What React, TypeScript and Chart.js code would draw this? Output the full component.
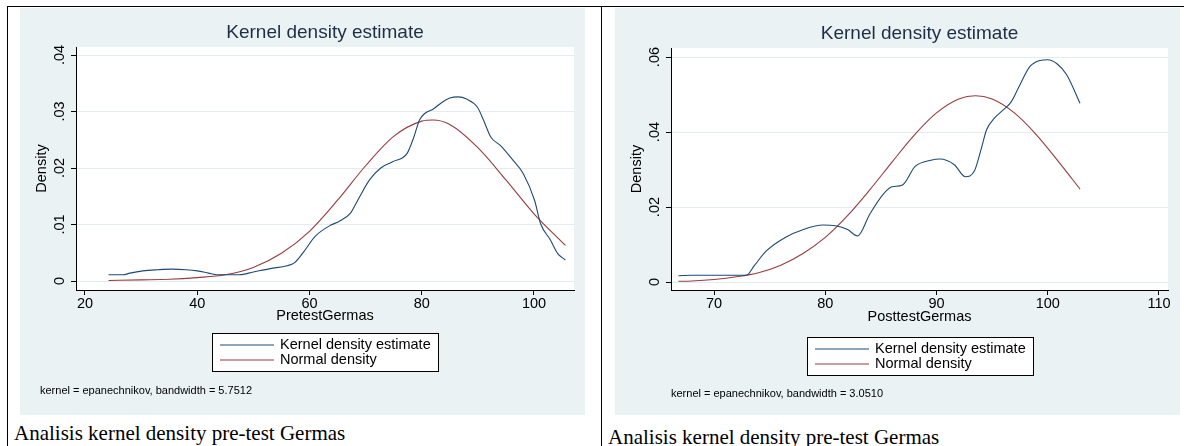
import React, { useEffect, useRef } from 'react';
import { Chart, registerables } from 'chart.js';

Chart.register(...registerables);

// ---------- data ----------
const seriesLabels = ['Kernel density estimate', 'Normal density'];
const chartTitle = 'Kernel density estimate';
const yTitle = 'Density';

// Pre-test panel
const preXTitle = 'PretestGermas';
const preNote = 'kernel = epanechnikov, bandwidth = 5.7512';
const preCaption = 'Analisis kernel density pre-test Germas';
const preXTicks = [20, 40, 60, 80, 100];
const preYTicks = [0, 0.01, 0.02, 0.03, 0.04];
const preKdeX = [24.2, 26.8, 28, 30.3, 33, 35.5, 38, 40, 42, 43.5, 47.5, 50, 53, 56, 57.3, 59, 61, 63.8, 65.2, 67.3, 68.6, 70.7, 72.7, 74.8, 77.4, 78.6, 79.6, 80.6, 82, 83.7, 85, 86.5, 88, 89.9, 91, 92.3, 94, 96, 98.1, 100.1, 101.2, 102.9, 104.2, 105.6];
const preKdeY = [0.0011, 0.0011, 0.0014, 0.0018, 0.002, 0.0021, 0.002, 0.0018, 0.0014, 0.0011, 0.0011, 0.0016, 0.0022, 0.0027, 0.0032, 0.0052, 0.0079, 0.0099, 0.0105, 0.012, 0.0143, 0.0179, 0.02, 0.0211, 0.0226, 0.0255, 0.0285, 0.0297, 0.0304, 0.0317, 0.0324, 0.0326, 0.0322, 0.0308, 0.0285, 0.0255, 0.024, 0.0217, 0.019, 0.0143, 0.0101, 0.0073, 0.0049, 0.0037];
const preNormX = [24.2, 30, 35, 40, 45, 50, 55, 60, 65, 70, 75, 80, 82, 85, 90, 95, 100, 105.6];
const preNormY = [0.0001, 0.0002, 0.0003, 0.0006, 0.0011, 0.0024, 0.0049, 0.0088, 0.0143, 0.0204, 0.0256, 0.0283, 0.0285, 0.0277, 0.0236, 0.0179, 0.0119, 0.0063];

// Post-test panel
const postXTitle = 'PosttestGermas';
const postNote = 'kernel = epanechnikov, bandwidth = 3.0510';
const postCaption = 'Analisis kernel density pre-test Germas';
const postXTicks = [70, 80, 90, 100, 110];
const postYTicks = [0, 0.02, 0.04, 0.06];
const postKdeX = [66.8, 68, 70, 72.2, 72.9, 73.6, 74.7, 76.4, 78.1, 79.8, 80.9, 82, 82.9, 84, 85.2, 86, 86.9, 88.1, 89.5, 90.3, 91.6, 92.6, 93.4, 94, 94.5, 95.2, 96, 96.7, 97.4, 98.4, 99.3, 100, 100.8, 101.7, 102.9];
const postKdeY = [0.0017, 0.0018, 0.0018, 0.0018, 0.0018, 0.0043, 0.0083, 0.0119, 0.0141, 0.0152, 0.015, 0.014, 0.0123, 0.0181, 0.0234, 0.0254, 0.0258, 0.0309, 0.0325, 0.0328, 0.0313, 0.0281, 0.0296, 0.0353, 0.0406, 0.0437, 0.0459, 0.048, 0.052, 0.0575, 0.0591, 0.0593, 0.0583, 0.0553, 0.0477];
const postNormX = [66.8, 68, 70, 72, 74, 76, 78, 80, 82, 84, 86, 88, 90, 92, 93.5, 95, 97, 99, 101, 102.9];
const postNormY = [0.0002, 0.0003, 0.0007, 0.0014, 0.0025, 0.0045, 0.0076, 0.0119, 0.0177, 0.0246, 0.032, 0.0392, 0.0451, 0.0488, 0.0497, 0.0488, 0.0451, 0.0392, 0.032, 0.0248];

// ---------- style ----------
const SANS = '"Liberation Sans", Arial, sans-serif';
const SERIF = '"Liberation Serif", "Times New Roman", serif';
const BLUE = '#1f4a70';
const RED = '#943c42';
const PANEL_BG = '#eaf2f3';
const GRID = '#e3ecee';
const TITLE_COLOR = '#1e2f45';

const fmtDensity = (v: number) => (v === 0 ? '0' : v.toFixed(2).replace(/^0/, ''));

const bgPlugin = {
  id: 'stataBg',
  beforeDraw(chart: any) {
    const { ctx, chartArea, width, height } = chart;
    ctx.save();
    ctx.fillStyle = PANEL_BG;
    ctx.fillRect(0, 0, width, height);
    ctx.fillStyle = '#ffffff';
    ctx.fillRect(chartArea.left, chartArea.top, chartArea.right - chartArea.left, chartArea.bottom - chartArea.top);
    ctx.restore();
  },
};

const legendPlugin = {
  id: 'stataLegend',
  afterDraw(chart: any, _args: any, opts: any) {
    const { ctx, chartArea } = chart;
    const cx = (chartArea.left + chartArea.right) / 2;
    const left = Math.round(cx - opts.width / 2);
    const top = opts.top;
    ctx.save();
    ctx.fillStyle = '#ffffff';
    ctx.fillRect(left, top, opts.width, opts.height);
    ctx.strokeStyle = '#000000';
    ctx.lineWidth = 1;
    ctx.strokeRect(left + 0.5, top + 0.5, opts.width, opts.height);
    chart.data.datasets.forEach((ds: any, i: number) => {
      const y = top + opts.rowStart + i * opts.rowGap;
      ctx.strokeStyle = ds.borderColor;
      ctx.lineWidth = 1.2;
      ctx.beginPath();
      ctx.moveTo(left + opts.sampleX0, y);
      ctx.lineTo(left + opts.sampleX1, y);
      ctx.stroke();
      ctx.fillStyle = '#000000';
      ctx.font = `14.5px ${SANS}`;
      ctx.textBaseline = 'middle';
      ctx.textAlign = 'left';
      ctx.fillText(ds.label, left + opts.textX, y);
    });
    ctx.restore();
  },
};

const notePlugin = {
  id: 'stataNote',
  afterDraw(chart: any, _args: any, opts: any) {
    const { ctx } = chart;
    ctx.save();
    ctx.fillStyle = '#000000';
    ctx.font = `11px ${SANS}`;
    ctx.textBaseline = 'middle';
    ctx.textAlign = 'left';
    ctx.fillText(opts.text, opts.x, opts.y);
    ctx.restore();
  },
};

type PanelProps = {
  left: number;
  top: number;
  width: number;
  height: number;
  kdeX: number[];
  kdeY: number[];
  normX: number[];
  normY: number[];
  xTicks: number[];
  yTicks: number[];
  xMin: number;
  xMax: number;
  yMin: number;
  yMax: number;
  xTitle: string;
  note: string;
  noteX: number;
  noteY: number;
  padRight: number;
  padBottom: number;
  xAxisHeight: number;
  titleTop: number;
  titleBottom: number;
  legendTop: number;
};

function DensityPanel(p: PanelProps) {
  const ref = useRef<HTMLCanvasElement>(null);
  useEffect(() => {
    const canvas = ref.current;
    if (!canvas) return;
    const chart = new Chart(canvas, {
      type: 'line',
      data: {
        datasets: [
          {
            label: seriesLabels[0],
            data: p.kdeX.map((x, i) => ({ x, y: p.kdeY[i] })),
            borderColor: BLUE,
            borderWidth: 1.1,
            pointRadius: 0,
            cubicInterpolationMode: 'monotone',
            fill: false,
          },
          {
            label: seriesLabels[1],
            data: p.normX.map((x, i) => ({ x, y: p.normY[i] })),
            borderColor: RED,
            borderWidth: 1.1,
            pointRadius: 0,
            cubicInterpolationMode: 'monotone',
            fill: false,
          },
        ],
      },
      options: {
        animation: false,
        responsive: false,
        devicePixelRatio: 1,
        events: [],
        layout: { padding: { left: 0, right: p.padRight, top: 0, bottom: p.padBottom } },
        plugins: {
          legend: { display: false },
          tooltip: { enabled: false },
          title: {
            display: true,
            text: chartTitle,
            fullSize: false,
            color: TITLE_COLOR,
            font: { family: SANS, size: 19, weight: 'normal', lineHeight: 1.2 },
            padding: { top: p.titleTop, bottom: p.titleBottom },
          },
          stataLegend: {
            top: p.legendTop,
            width: 226,
            height: 38,
            rowStart: 12,
            rowGap: 15,
            sampleX0: 8,
            sampleX1: 62,
            textX: 68,
          },
          stataNote: { text: p.note, x: p.noteX, y: p.noteY },
        } as any,
        scales: {
          x: {
            type: 'linear',
            min: p.xMin,
            max: p.xMax,
            afterBuildTicks: (s: any) => {
              s.ticks = p.xTicks.map((v) => ({ value: v }));
            },
            afterFit: (s: any) => {
              s.height = p.xAxisHeight;
            },
            border: { display: true, color: '#000000', width: 1 },
            grid: { drawOnChartArea: false, tickColor: '#000000', tickLength: 5 },
            ticks: {
              color: '#000000',
              font: { family: SANS, size: 14.5 },
              padding: 0,
              maxRotation: 0,
              autoSkip: false,
              callback: (v: any) => String(v),
            },
            title: {
              display: true,
              text: p.xTitle,
              color: '#000000',
              font: { family: SANS, size: 14.5 },
              padding: { top: 0, bottom: 0 },
            },
          },
          y: {
            type: 'linear',
            min: p.yMin,
            max: p.yMax,
            afterBuildTicks: (s: any) => {
              s.ticks = p.yTicks.map((v) => ({ value: v }));
            },
            afterFit: (s: any) => {
              s.width = 56;
            },
            border: { display: true, color: '#000000', width: 1 },
            grid: { color: GRID, tickColor: '#000000', tickLength: 5 },
            ticks: {
              color: '#000000',
              font: { family: SANS, size: 14.5 },
              padding: 1,
              minRotation: 90,
              maxRotation: 90,
              crossAlign: 'center',
              autoSkip: false,
              callback: (v: any) => fmtDensity(Number(v)),
            },
            title: {
              display: true,
              text: yTitle,
              color: '#000000',
              font: { family: SANS, size: 14.5 },
              padding: { top: 13, bottom: 0 },
            },
          },
        },
      } as any,
      plugins: [bgPlugin, legendPlugin, notePlugin],
    });
    return () => chart.destroy();
  }, []);
  return (
    <canvas
      ref={ref}
      width={p.width}
      height={p.height}
      style={{ position: 'absolute', left: p.left, top: p.top, width: p.width, height: p.height }}
    />
  );
}

export default function App() {
  return (
    <div
      style={{
        position: 'fixed',
        left: 0,
        top: 0,
        width: 1184,
        height: 446,
        background: '#ffffff',
        overflow: 'hidden',
      }}
    >
      {/* table borders */}
      <div style={{ position: 'absolute', left: 7, top: 6, width: 1177, height: 1, background: '#000' }} />
      <div style={{ position: 'absolute', left: 7, top: 6, width: 1, height: 440, background: '#000' }} />
      <div style={{ position: 'absolute', left: 601, top: 6, width: 1, height: 440, background: '#000' }} />

      <DensityPanel
        left={20}
        top={8}
        width={565}
        height={407}
        kdeX={preKdeX}
        kdeY={preKdeY}
        normX={preNormX}
        normY={preNormY}
        xTicks={preXTicks}
        yTicks={preYTicks}
        xMin={18.4}
        xMax={107.13}
        yMin={-0.00159}
        yMax={0.04142}
        xTitle={preXTitle}
        note={preNote}
        noteX={20}
        noteY={383}
        padRight={11}
        padBottom={90}
        xAxisHeight={35}
        titleTop={13.6}
        titleBottom={2.6}
        legendTop={325}
      />
      <DensityPanel
        left={615}
        top={8}
        width={565}
        height={407}
        kdeX={postKdeX}
        kdeY={postKdeY}
        normX={postNormX}
        normY={postNormY}
        xTicks={postXTicks}
        yTicks={postYTicks}
        xMin={66.13}
        xMax={110.81}
        yMin={-0.00212}
        yMax={0.06242}
        xTitle={postXTitle}
        note={postNote}
        noteX={56}
        noteY={386}
        padRight={12}
        padBottom={89}
        xAxisHeight={36}
        titleTop={13.9}
        titleBottom={3.3}
        legendTop={329}
      />

      <div
        style={{
          position: 'absolute',
          left: 14,
          top: 420,
          font: `21px ${SERIF}`,
          color: '#000',
          whiteSpace: 'nowrap',
          lineHeight: '26px',
        }}
      >
        {preCaption}
      </div>
      <div
        style={{
          position: 'absolute',
          left: 608,
          top: 424,
          font: `21px ${SERIF}`,
          color: '#000',
          whiteSpace: 'nowrap',
          lineHeight: '26px',
        }}
      >
        {postCaption}
      </div>
    </div>
  );
}
